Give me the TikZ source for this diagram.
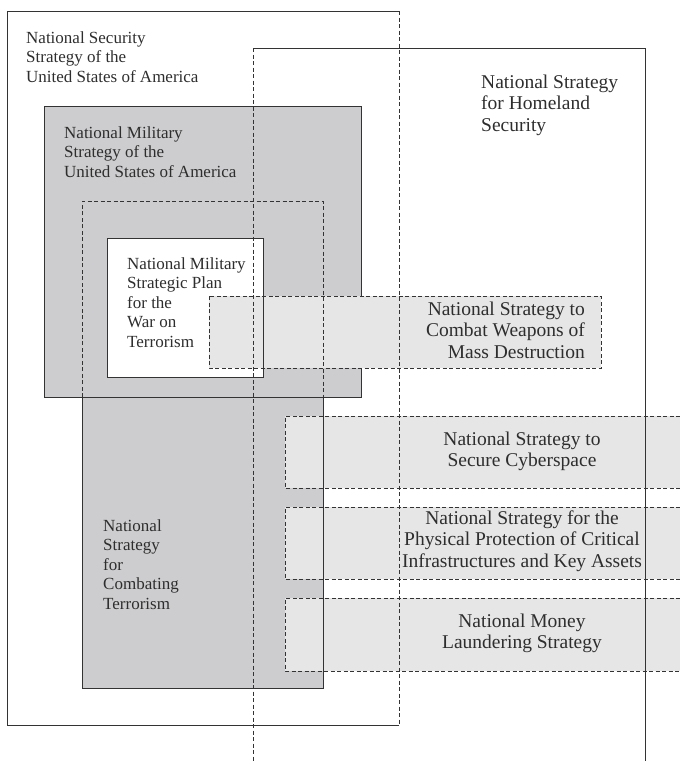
\documentclass[tikz,border=0pt]{standalone}
\usepackage{fontspec}
\setmainfont{Liberation Serif}
\definecolor{midgrey}{HTML}{CDCDCF}
\definecolor{lightgrey}{HTML}{E6E6E6}
\definecolor{linec}{HTML}{333333}
\definecolor{textc}{HTML}{2E2E2E}
\newcommand{\smallfnt}{\fontsize{17}{19.5}\selectfont}
\newcommand{\bigfnt}{\fontsize{19.5}{21.5}\selectfont}
\newcommand{\ltab}[1]{\begin{tabular}[t]{@{}l@{}}#1\end{tabular}}
\newcommand{\rtab}[1]{\begin{tabular}[t]{@{}r@{}}#1\end{tabular}}
\newcommand{\ctab}[1]{\begin{tabular}[t]{@{}c@{}}#1\end{tabular}}
\tikzset{
  solidline/.style={draw=linec, line width=1pt},
  dashline/.style={draw=linec, line width=1pt, dash pattern=on 4pt off 2.5pt},
  lefttext/.style={inner sep=0pt, anchor=base west, text=textc, font=\smallfnt},
  righttext/.style={inner sep=0pt, text=textc, font=\bigfnt},
}
\begin{document}
\begin{tikzpicture}[x=1pt,y=-1pt]
\useasboundingbox (0,0) rectangle (680,761);
% fills
\fill[midgrey] (44,106) rectangle (361,397);
\fill[midgrey] (82,201) rectangle (323,688);
\fill[white] (107,238) rectangle (263,377);
\draw[solidline] (44,106) rectangle (361,397);
\fill[lightgrey] (209,296) rectangle (601,368);
\fill[lightgrey] (285,416) rectangle (680,488);
\fill[lightgrey] (285,507) rectangle (680,579);
\fill[lightgrey] (285,598) rectangle (680,671);
% dashed light boxes
\draw[dashline] (209,296) rectangle (601,368);
\draw[dashline] (680,416) -- (285,416) -- (285,488) -- (680,488);
\draw[dashline] (680,507) -- (285,507) -- (285,579) -- (680,579);
\draw[dashline] (680,598) -- (285,598) -- (285,671) -- (680,671);
% combating terrorism outline
\draw[dashline] (82,397) -- (82,201) -- (323,201) -- (323,397);
\draw[solidline] (82,397) -- (82,688) -- (323,688) -- (323,397);
% plan outline
\draw[solidline] (107,238) rectangle (263,377);
% national security strategy
\draw[solidline] (399,725) -- (7,725) -- (7,11) -- (399,11);
\draw[dashline] (399,11) -- (399,725);
% homeland security
\draw[solidline] (253,48) -- (645,48) -- (645,761);
\draw[dashline] (253,48) -- (253,761);
% texts
\node[lefttext] (nss) at (26,43) {\ltab{National Security\\Strategy of the\\United States of America}};
\node[lefttext] (nms) at (64,138) {\ltab{National Military\\Strategy of the\\United States of America}};
\node[lefttext] (plan) at (127,269) {\ltab{National Military\\Strategic Plan\\for the\\War on\\Terrorism}};
\node[lefttext] (ct) at (103,531) {\ltab{National\\Strategy\\for\\Combating\\Terrorism}};
\node[righttext, anchor=base west] (hs) at (481,88) {\ltab{National Strategy\\for Homeland\\Security}};
\node[righttext, anchor=base east] (wmd) at (585,315) {\rtab{National Strategy to\\Combat Weapons of\\Mass Destruction}};
\node[righttext, anchor=base] (cyber) at (522,445) {\ctab{National Strategy to\\Secure Cyberspace}};
\node[righttext, anchor=base] (phys) at (522,524) {\ctab{National Strategy for the\\Physical Protection of Critical\\Infrastructures and Key Assets}};
\node[righttext, anchor=base] (money) at (522,627) {\ctab{National Money\\Laundering Strategy}};
\end{tikzpicture}
\end{document}
